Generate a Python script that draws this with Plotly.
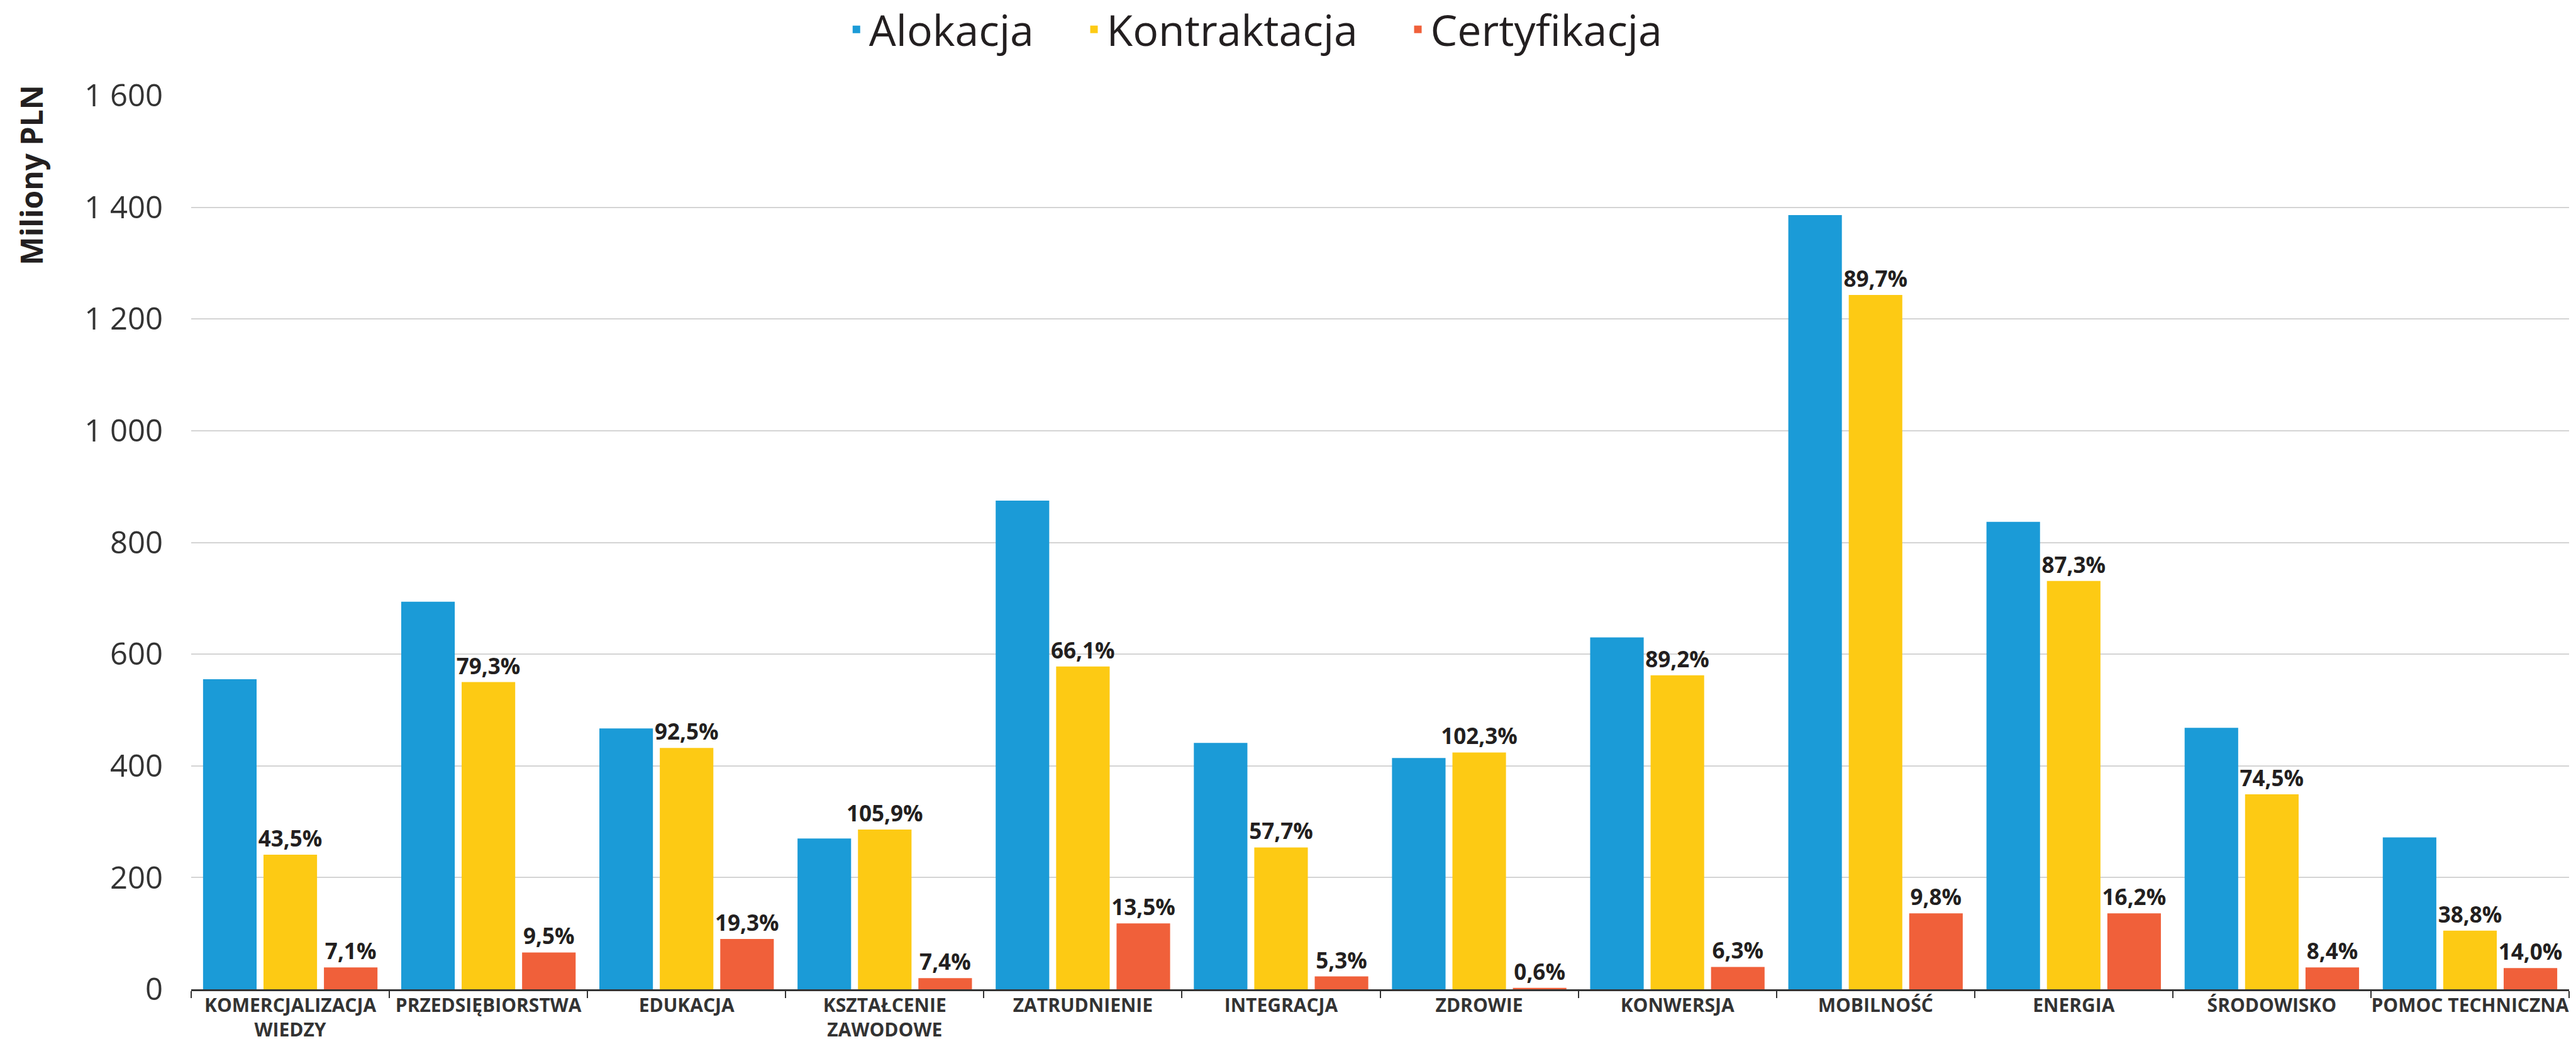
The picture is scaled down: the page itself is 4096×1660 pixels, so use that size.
import plotly.graph_objects as go

# ---------------- data ----------------
categories = [
    "KOMERCJALIZACJA<br>WIEDZY", "PRZEDSIĘBIORSTWA", "EDUKACJA",
    "KSZTAŁCENIE<br>ZAWODOWE", "ZATRUDNIENIE", "INTEGRACJA", "ZDROWIE",
    "KONWERSJA", "MOBILNOŚĆ", "ENERGIA", "ŚRODOWISKO", "POMOC TECHNICZNA",
]
alokacja = [555, 694, 467, 270, 875, 441, 414, 630, 1386, 837, 468, 272]
kontraktacja = [241, 550, 432, 286, 578, 254, 424, 562, 1243, 731, 349, 105]
certyfikacja = [39, 66, 90, 20, 118, 23, 2.5, 40, 136, 136, 39, 38]
kontraktacja_pct = [43.5, 79.3, 92.5, 105.9, 66.1, 57.7, 102.3, 89.2, 89.7, 87.3, 74.5, 38.8]
certyfikacja_pct = [7.1, 9.5, 19.3, 7.4, 13.5, 5.3, 0.6, 6.3, 9.8, 16.2, 8.4, 14.0]
series_names = ["Alokacja", "Kontraktacja", "Certyfikacja"]
series_colors = ["#1b9bd7", "#fdca14", "#f0603a"]
y_tickvals = [0, 200, 400, 600, 800, 1000, 1200, 1400, 1600]
y_ticktext = ["0", "200", "400", "600", "800", "1 000", "1 200", "1 400", "1 600"]
y_title = "Miliony PLN"


def fmt(v):
    return f"{v:.1f}".replace(".", ",") + "%"


FONT = "Open Sans, Noto Sans, sans-serif"
LABEL_COLOR = "#231f20"
PAD = "\u00a0" * 4

fig = go.Figure()
values = [alokacja, kontraktacja, certyfikacja]
texts = [None, [fmt(v) for v in kontraktacja_pct], [fmt(v) for v in certyfikacja_pct]]
for i, (name, color) in enumerate(zip(series_names, series_colors)):
    fig.add_trace(go.Bar(
        x=categories, y=values[i], name=name + (PAD if i < 2 else ""),
        marker=dict(color=color, line=dict(width=0)),
        text=texts[i], textposition="outside" if texts[i] else "none",
        textfont=dict(family=FONT, size=35, color=LABEL_COLOR, weight="bold"),
        constraintext="none", cliponaxis=False, textangle=0,
    ))

fig.update_layout(
    width=4096, height=1660,
    margin=dict(l=304, r=11, t=152, b=87, autoexpand=False),
    paper_bgcolor="white", plot_bgcolor="white",
    barmode="group", bargap=0.085, bargroupgap=0.114,
    font=dict(family=FONT, color="#333333"),
    legend=dict(
        orientation="h", xref="container", x=0.487, xanchor="center",
        yref="container", y=0.9717, yanchor="middle",
        font=dict(family=FONT, size=68, color=LABEL_COLOR),
        traceorder="normal", bgcolor="rgba(0,0,0,0)",
    ),
    xaxis=dict(
        type="category", tickson="boundaries", ticks="outside", ticklen=11,
        tickwidth=2, tickcolor="#333333", showline=True, linecolor="#333333",
        linewidth=2.5, showgrid=False, tickangle=0, ticklabelstandoff=-3,
        tickfont=dict(family=FONT, size=30, color="#333333", weight="bold"),
    ),
    yaxis=dict(
        range=[0, 1600], tickvals=y_tickvals, ticktext=y_ticktext,
        showgrid=True, gridcolor="#d4d4d4", gridwidth=2, zeroline=False,
        showline=False, ticks="", ticklabelstandoff=44,
        tickfont=dict(family=FONT, size=49, color="#333333"),
    ),
    annotations=[dict(
        text=y_title, xref="paper", yref="paper", x=-0.0674, y=0.911,
        xanchor="center", yanchor="middle", textangle=-90, showarrow=False,
        font=dict(family=FONT, size=48, color=LABEL_COLOR, weight="bold"),
    )],
    shapes=[dict(
        type="line", xref="paper", x0=0, x1=1, yref="y", y0=1600, y1=1600,
        line=dict(color="white", width=4), layer="between",
    )],
)

fig.write_html(
    "out.html",
    config={"displayModeBar": False},
    post_script="document.body.style.margin='0';document.body.style.overflow='hidden';",
)
